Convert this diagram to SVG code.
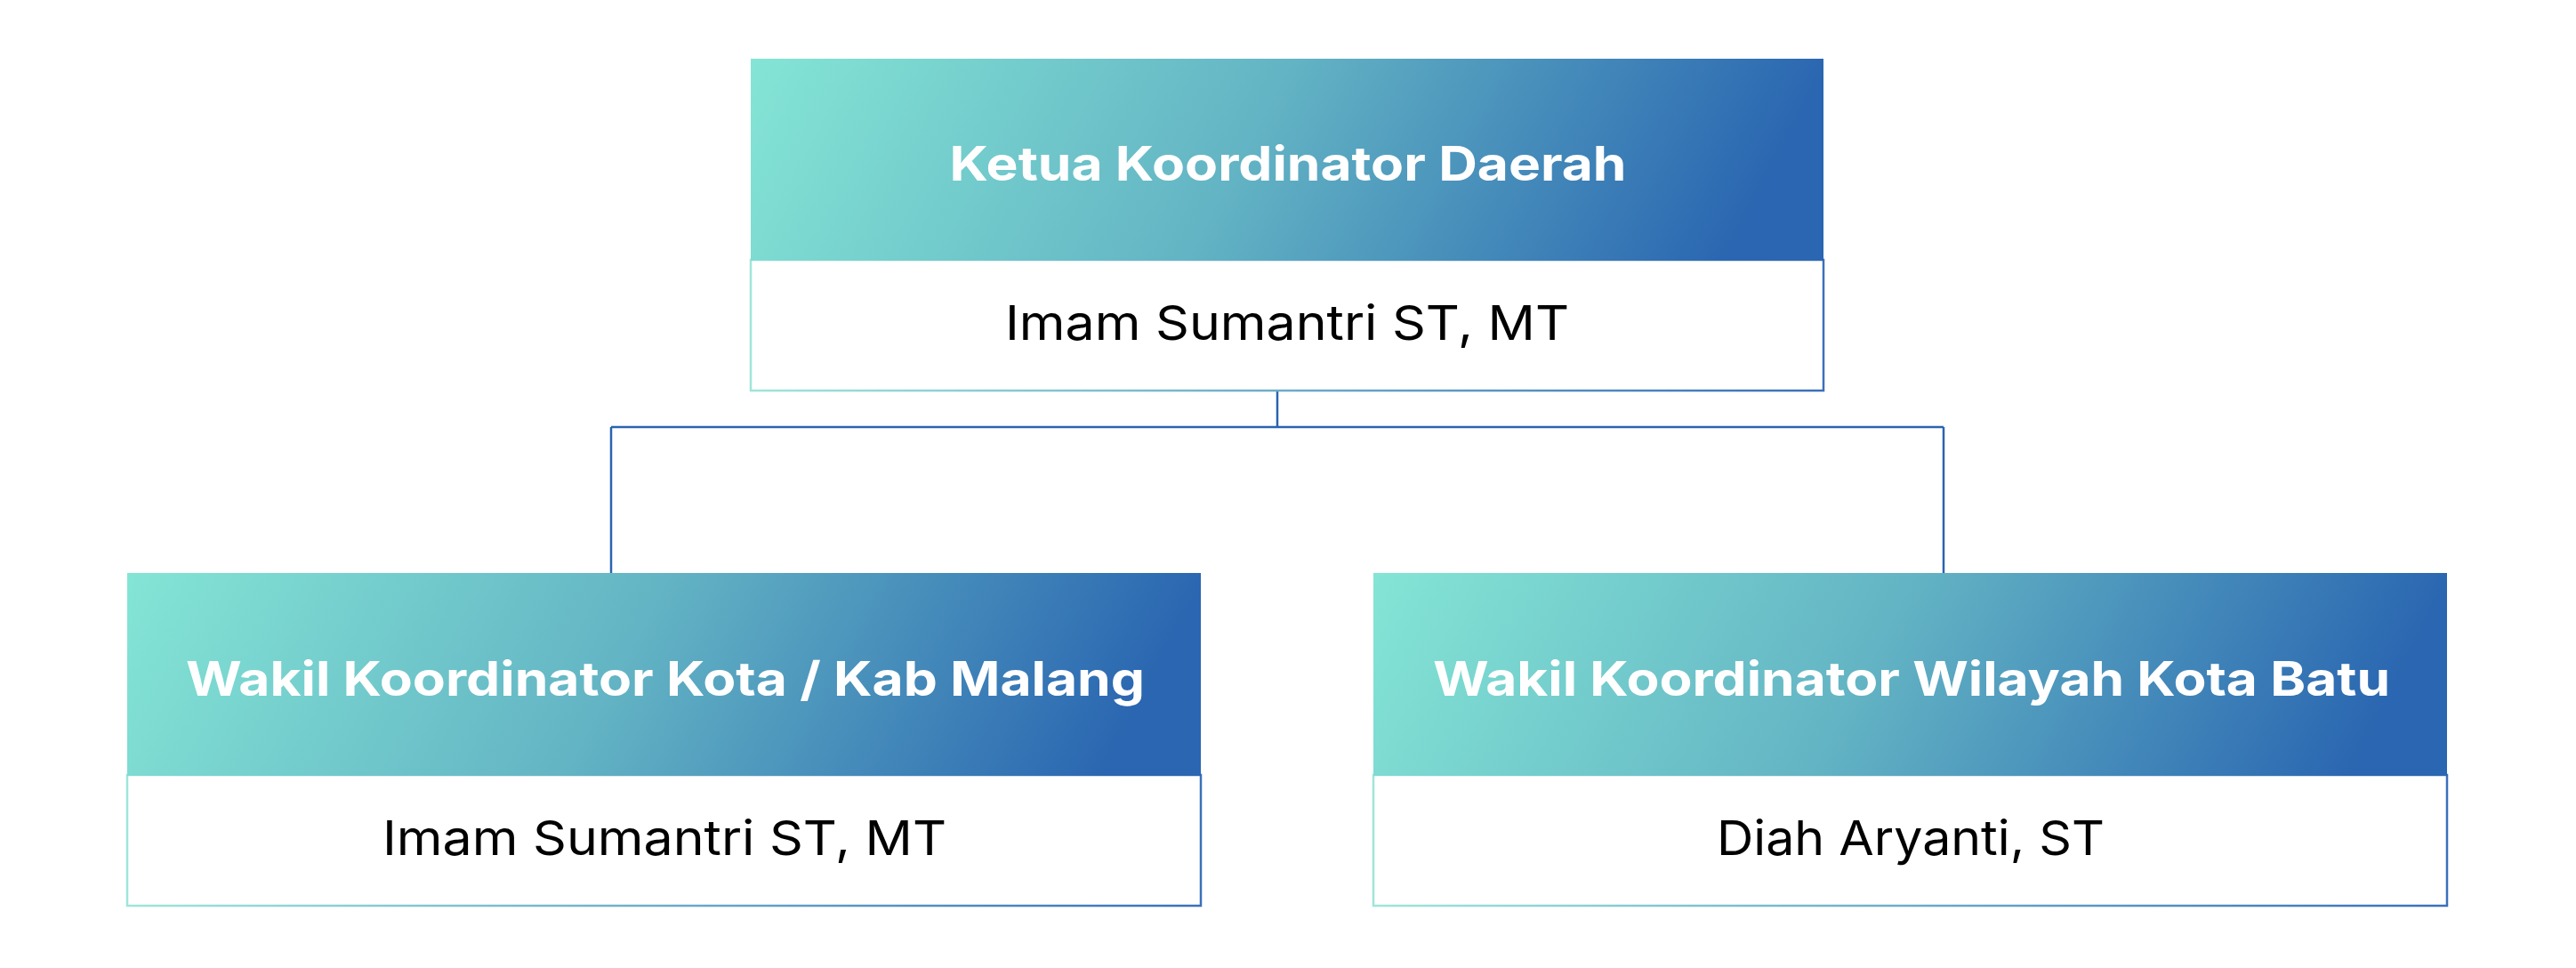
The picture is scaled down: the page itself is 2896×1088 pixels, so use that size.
<svg xmlns="http://www.w3.org/2000/svg" width="2896" height="1088" viewBox="0 0 2896 1088">
<defs>
<linearGradient id="hg" x1="0" y1="0" x2="1" y2="0.1">
<stop offset="0" stop-color="#84E5D5"/>
<stop offset="0.5" stop-color="#63B4C4"/>
<stop offset="1" stop-color="#2A66B1"/>
</linearGradient>
<linearGradient id="bg" x1="0" y1="0" x2="1" y2="0">
<stop offset="0" stop-color="#9EE6DA"/>
<stop offset="1" stop-color="#3A70BA"/>
</linearGradient>
</defs>
<style>
.hdr{fill:url(#hg);}
.body{fill:#FFFFFF;stroke:url(#bg);stroke-width:2.5;}
.title{font-family:Inter,"Noto Sans","Liberation Sans",sans-serif;font-weight:700;font-size:53px;fill:#FFFFFF;text-anchor:middle;}
.name{font-family:Inter,"Noto Sans","Liberation Sans",sans-serif;font-weight:400;font-size:54px;fill:#000000;text-anchor:middle;}
.conn{fill:none;stroke:#2A63B0;stroke-width:2.5;}
</style>
<rect width="2896" height="1088" fill="#FFFFFF"/>
<g id="connectors">
<path class="conn" d="M1436 439 V480"/>
<path class="conn" d="M687 480 H2185"/>
<path class="conn" d="M687 480 V644"/>
<path class="conn" d="M2185 480 V644"/>
</g>
<g id="node-ketua">
<rect class="body" x="844" y="292" width="1206" height="147"/>
<rect class="hdr" x="844" y="66" width="1206" height="227"/>
<text class="title" x="1448" y="203" textLength="761" lengthAdjust="spacingAndGlyphs">Ketua Koordinator Daerah</text>
<text class="name" x="1447" y="382" textLength="634" lengthAdjust="spacingAndGlyphs">Imam Sumantri ST, MT</text>
</g>
<g id="node-wakil-malang">
<rect class="body" x="143" y="871" width="1207" height="147"/>
<rect class="hdr" x="143" y="644" width="1207" height="228"/>
<text class="title" x="748" y="782" textLength="1078" lengthAdjust="spacingAndGlyphs">Wakil Koordinator Kota / Kab Malang</text>
<text class="name" x="747" y="961" textLength="634" lengthAdjust="spacingAndGlyphs">Imam Sumantri ST, MT</text>
</g>
<g id="node-wakil-batu">
<rect class="body" x="1544" y="871" width="1207" height="147"/>
<rect class="hdr" x="1544" y="644" width="1207" height="228"/>
<text class="title" x="2149" y="782" textLength="1076" lengthAdjust="spacingAndGlyphs">Wakil Koordinator Wilayah Kota Batu</text>
<text class="name" x="2148" y="961" textLength="436" lengthAdjust="spacingAndGlyphs">Diah Aryanti, ST</text>
</g>
</svg>
